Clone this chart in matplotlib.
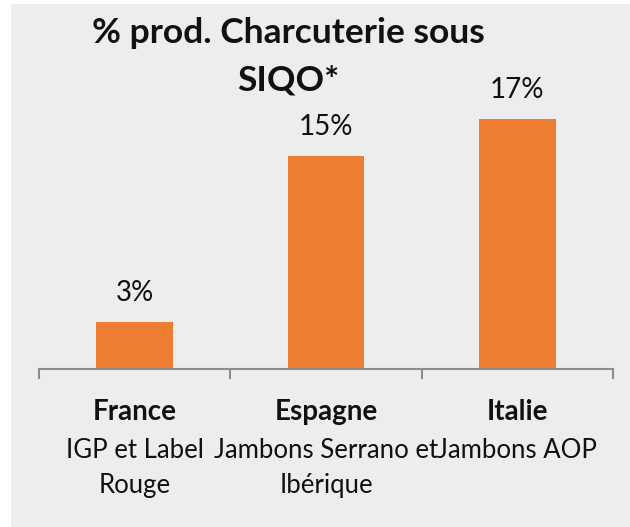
import matplotlib.pyplot as plt
from matplotlib.patches import Rectangle
import matplotlib.transforms as mtransforms

plt.rcParams['font.family'] = ['Lato', 'DejaVu Sans']

# data
pays = ['France', 'Espagne', 'Italie']
produits = ['IGP et Label\nRouge', 'Jambons Serrano et\nIbérique', 'Jambons AOP']
valeurs = [3.2, 14.6, 17.1]
etiquettes = ['3%', '15%', '17%']
titre = ['% prod. Charcuterie sous', 'SIQO*']

W, H = 630, 527
fig = plt.figure(figsize=(W / 100, H / 100), dpi=100)
fig.patch.set_facecolor('white')

# gray chart area
fig.add_artist(Rectangle((11 / W, 0), 1 - 11 / W, 1 - 4 / H, transform=fig.transFigure,
                         facecolor='#EDEDED', edgecolor='none', zorder=0))

base_px, top_px = 369, 60
px_per_unit = 14.6
ax = fig.add_axes([39 / W, 1 - base_px / H, (613 - 39) / W, (base_px - top_px) / H])
ax.set_facecolor('none')

x = range(len(pays))
ax.bar(x, valeurs, width=0.4, color='#ED7D31', zorder=2)
ax.set_xlim(-0.5, 2.5)
ax.set_ylim(0, (base_px - top_px) / px_per_unit)

pt = 0.72  # points per pixel at dpi 100
for i, (v, lab) in enumerate(zip(valeurs, etiquettes)):
    ax.annotate(lab, (i, v), xytext=(0, 21 * pt), textcoords='offset points',
                ha='center', va='baseline', fontsize=20, color='#111111')

for s in ['left', 'right', 'top']:
    ax.spines[s].set_visible(False)
ax.spines['bottom'].set_color('#8C8C8C')
ax.spines['bottom'].set_linewidth(1.5)
ax.set_yticks([])
ax.set_xticks([-0.5, 0.5, 1.5, 2.5])
ax.set_xticklabels([])
ax.tick_params(axis='x', direction='out', length=7, width=1.5, color='#8C8C8C')

trans = mtransforms.blended_transform_factory(ax.transData, ax.transAxes)
for i, (p, prod) in enumerate(zip(pays, produits)):
    ax.annotate(p, (i, 0), xycoords=trans, xytext=(0, -51 * pt), textcoords='offset points',
                ha='center', va='baseline', fontsize=20, fontweight='bold', color='#111111')
    for k, ligne in enumerate(prod.split('\n')):
        ax.annotate(ligne, (i, 0), xycoords=trans, xytext=(0, -(89 + 35 * k) * pt),
                    textcoords='offset points', ha='center', va='baseline',
                    fontsize=18.5, color='#111111')

for k, ligne in enumerate(titre):
    fig.text(288.5 / W, 1 - (43 + 48 * k) / H, ligne, ha='center', va='baseline',
             fontsize=25.5, fontweight='bold', color='#111111')

fig.savefig('out.png', dpi=100)
